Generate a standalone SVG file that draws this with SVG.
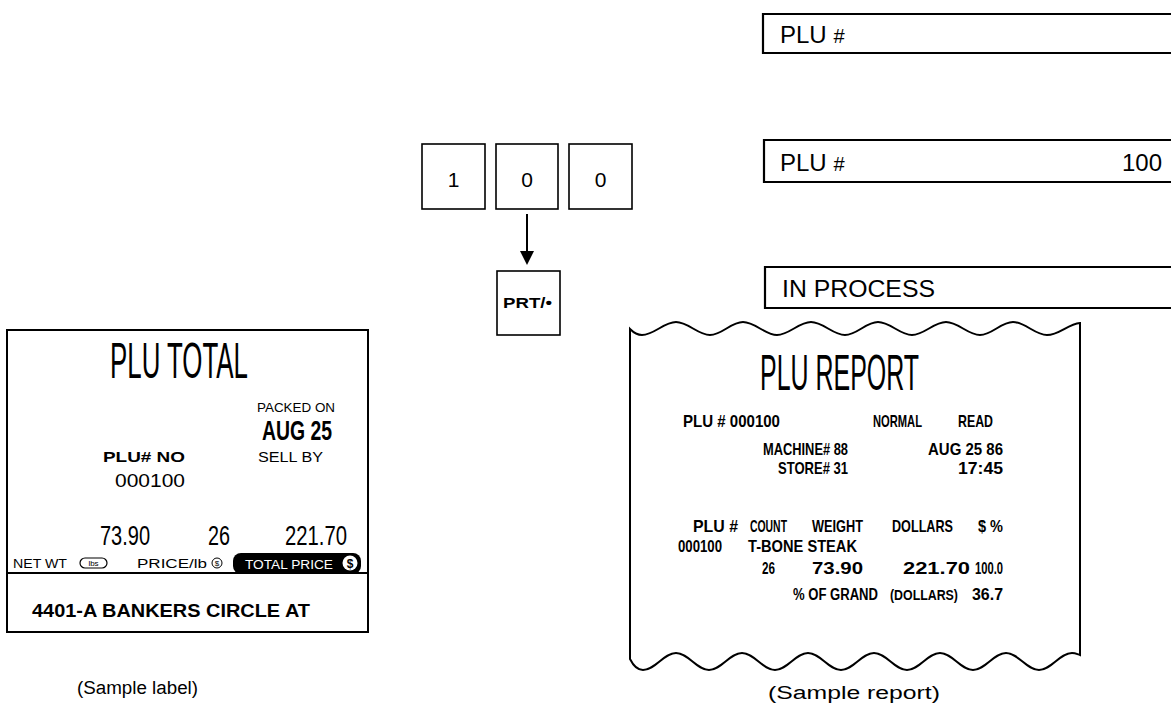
<svg xmlns="http://www.w3.org/2000/svg" width="1171" height="708" viewBox="0 0 1171 708">
<style>
.bx{fill:#fff;stroke:#000;stroke-width:2.2}
.key{fill:#fff;stroke:#000;stroke-width:1.6}
.d{font-family:"Liberation Sans",Arial,sans-serif;font-size:24px;fill:#000}
.k{font-family:"Liberation Sans",Arial,sans-serif;font-size:21px;fill:#000}
.t{font-family:"Liberation Sans",Arial,sans-serif;fill:#000}
.r{font-family:"Liberation Sans",Arial,sans-serif;font-size:17px;font-weight:bold;fill:#000}
.r2{font-family:"Liberation Sans",Arial,sans-serif;font-size:16px;font-weight:bold;fill:#000}
.cap{font-family:"Liberation Sans",Arial,sans-serif;font-size:18px;fill:#000}
</style>
<rect width="1171" height="708" fill="#fff"/>

<g id="display1">
<path class="bx" d="M1175,14 L763,14 L763,53 L1175,53"/>
<text class="d" x="780" y="43">PLU <tspan font-style="italic" font-size="20">#</tspan></text>
</g>
<g id="display2">
<path class="bx" d="M1175,140 L764,140 L764,182 L1175,182"/>
<text class="d" x="780" y="171">PLU <tspan font-style="italic" font-size="20">#</tspan></text>
<text class="d" x="1162" y="171" text-anchor="end">100</text>
</g>
<g id="display3">
<path class="bx" d="M1175,267 L765,267 L765,308 L1175,308"/>
<text class="d" x="782" y="297" textLength="153" lengthAdjust="spacingAndGlyphs">IN PROCESS</text>
</g>

<g id="key1"><rect class="key" x="422" y="144" width="63" height="65"/><text class="k" x="453.5" y="187" text-anchor="middle">1</text></g>
<g id="key0a"><rect class="key" x="496" y="144" width="62" height="65"/><text class="k" x="527" y="187" text-anchor="middle">0</text></g>
<g id="key0b"><rect class="key" x="569" y="144" width="63" height="65"/><text class="k" x="600.5" y="187" text-anchor="middle">0</text></g>
<g id="keyPRT"><rect class="key" x="497" y="271" width="63" height="64"/><text class="t" x="503" y="308" font-size="14" font-weight="bold" textLength="49" lengthAdjust="spacingAndGlyphs">PRT/•</text></g>

<g id="connectors">
<line x1="527" y1="214" x2="527" y2="253" stroke="#000" stroke-width="2"/>
<polygon points="520,251 534,251 527,265" fill="#000"/>
</g>

<g id="label">
<rect x="7" y="330" width="361" height="302" fill="#fff" stroke="#000" stroke-width="2"/>
<text class="t" x="110" y="378" font-size="50" textLength="138" lengthAdjust="spacingAndGlyphs">PLU TOTAL</text>
<text class="t" x="257" y="412" font-size="12" textLength="78" lengthAdjust="spacingAndGlyphs">PACKED ON</text>
<text class="t" x="262" y="440" font-size="28" font-weight="bold" textLength="70" lengthAdjust="spacingAndGlyphs">AUG 25</text>
<text class="t" x="103" y="462" font-size="15" font-weight="bold" textLength="82" lengthAdjust="spacingAndGlyphs">PLU# NO</text>
<text class="t" x="258" y="462" font-size="14" textLength="65" lengthAdjust="spacingAndGlyphs">SELL BY</text>
<text class="t" x="115" y="487" font-size="19" textLength="70" lengthAdjust="spacingAndGlyphs">000100</text>
<text class="t" x="100" y="545" font-size="28" textLength="50" lengthAdjust="spacingAndGlyphs">73.90</text>
<text class="t" x="208" y="545" font-size="28" textLength="22" lengthAdjust="spacingAndGlyphs">26</text>
<text class="t" x="285" y="545" font-size="28" textLength="62" lengthAdjust="spacingAndGlyphs">221.70</text>
<text class="t" x="13" y="568" font-size="12" textLength="54" lengthAdjust="spacingAndGlyphs">NET WT</text>
<rect x="80" y="558" width="27" height="10" rx="5" fill="none" stroke="#000" stroke-width="1.2"/>
<text class="t" x="93.5" y="566" font-size="8" text-anchor="middle">lbs</text>
<text class="t" x="137" y="568" font-size="12" textLength="70" lengthAdjust="spacingAndGlyphs">PRICE/lb</text>
<circle cx="217" cy="563" r="5" fill="none" stroke="#000" stroke-width="1"/>
<text class="t" x="217" y="566" font-size="8" text-anchor="middle">$</text>
<rect x="233" y="553" width="128" height="21" rx="8" fill="#000"/>
<text class="t" x="245" y="569" font-size="12" style="fill:#fff" textLength="88" lengthAdjust="spacingAndGlyphs">TOTAL PRICE</text>
<circle cx="350" cy="563" r="7.5" fill="#fff"/>
<text class="t" x="350" y="567.5" font-size="12" font-weight="bold" text-anchor="middle">$</text>
<line x1="7" y1="573" x2="368" y2="573" stroke="#000" stroke-width="2"/>
<text class="t" x="32" y="617" font-size="19" font-weight="bold" textLength="278" lengthAdjust="spacingAndGlyphs">4401-A BANKERS CIRCLE AT</text>
</g>
<g id="label-caption"><text class="cap" x="77" y="694" textLength="121" lengthAdjust="spacingAndGlyphs">(Sample label)</text></g>

<g id="report">
<path fill="#fff" stroke="#000" stroke-width="2" d="M630,329 C634,333 638,335 642,335 C654,335 664,322 676,322 C688,322 698,335 710,335 C722,335 731,322 743,322 C755,322 765,335 777,335 C789,335 799,322 811,322 C823,322 833,335 845,335 C857,335 866,322 878,322 C890,322 900,335 912,335 C924,335 934,322 946,322 C958,322 968,335 980,335 C992,335 1001,322 1013,322 C1025,322 1035,335 1047,335 C1059,335 1068,324 1080,323 L1080,655 C1077,654 1075,653 1072,653 C1060,653 1051,670 1039,670 C1027,670 1018,653 1006,653 C994,653 985,670 973,670 C961,670 952,653 940,653 C928,653 919,670 907,670 C895,670 886,653 874,653 C862,653 853,670 841,670 C829,670 820,653 808,653 C796,653 787,670 775,670 C763,670 754,653 742,653 C730,653 721,670 709,670 C697,670 688,653 676,653 C664,653 655,670 643,670 C637,670 633,665 630,659 Z"/>
<text class="t" x="760" y="390" font-size="50" textLength="159" lengthAdjust="spacingAndGlyphs">PLU REPORT</text>
<text class="r" x="683" y="427" textLength="97" lengthAdjust="spacingAndGlyphs">PLU # 000100</text>
<text class="r" x="873" y="427" textLength="49" lengthAdjust="spacingAndGlyphs">NORMAL</text>
<text class="r" x="958" y="427" textLength="35" lengthAdjust="spacingAndGlyphs">READ</text>
<text class="r" x="763" y="455" textLength="85" lengthAdjust="spacingAndGlyphs">MACHINE# 88</text>
<text class="r" x="928" y="455" textLength="75" lengthAdjust="spacingAndGlyphs">AUG 25 86</text>
<text class="r" x="778" y="474" textLength="70" lengthAdjust="spacingAndGlyphs">STORE# 31</text>
<text class="r" x="958" y="474" textLength="45" lengthAdjust="spacingAndGlyphs">17:45</text>
<text class="r" x="693" y="532" textLength="45" lengthAdjust="spacingAndGlyphs">PLU #</text>
<text class="r" x="750" y="532" textLength="37" lengthAdjust="spacingAndGlyphs">COUNT</text>
<text class="r" x="812" y="532" textLength="51" lengthAdjust="spacingAndGlyphs">WEIGHT</text>
<text class="r" x="892" y="532" textLength="61" lengthAdjust="spacingAndGlyphs">DOLLARS</text>
<text class="r" x="978" y="532" textLength="25" lengthAdjust="spacingAndGlyphs">$ %</text>
<text class="r" x="678" y="552" textLength="44" lengthAdjust="spacingAndGlyphs">000100</text>
<text class="r" x="748" y="552" textLength="109" lengthAdjust="spacingAndGlyphs">T-BONE STEAK</text>
<text class="r2" x="762" y="574" textLength="13" lengthAdjust="spacingAndGlyphs">26</text>
<text class="r2" x="812" y="574" textLength="51" lengthAdjust="spacingAndGlyphs">73.90</text>
<text class="r2" x="903" y="574" textLength="67" lengthAdjust="spacingAndGlyphs">221.70</text>
<text class="r2" x="975" y="574" textLength="28" lengthAdjust="spacingAndGlyphs">100.0</text>
<text class="r2" x="793" y="600" textLength="85" lengthAdjust="spacingAndGlyphs">% OF GRAND</text>
<text class="r2" x="890" y="600" font-size="14.5" textLength="68" lengthAdjust="spacingAndGlyphs" style="font-size:14.5px">(DOLLARS)</text>
<text class="r2" x="972" y="600" textLength="31" lengthAdjust="spacingAndGlyphs">36.7</text>
</g>
<g id="report-caption"><text class="cap" x="768" y="699" textLength="172" lengthAdjust="spacingAndGlyphs">(Sample report)</text></g>
</svg>
